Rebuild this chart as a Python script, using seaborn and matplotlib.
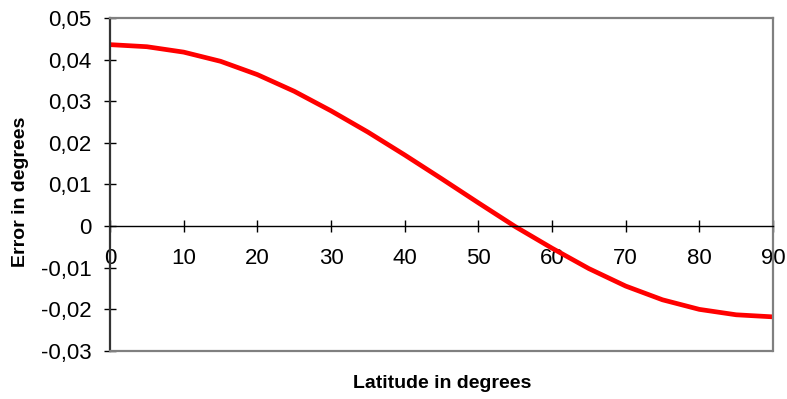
import matplotlib
matplotlib.use("Agg")
import matplotlib.pyplot as plt
import seaborn as sns
import pandas as pd
from matplotlib.ticker import FuncFormatter

# Values (every 5 degrees)
latitude = [0, 5, 10, 15, 20, 25, 30, 35, 40, 45, 50, 55, 60, 65, 70, 75, 80, 85, 90]
error = [0.0436, 0.0431, 0.0418, 0.0396, 0.0364, 0.0324, 0.0277, 0.0226, 0.0171,
         0.0114, 0.0056, -0.0001, -0.0053, -0.0102, -0.0144, -0.0177, -0.0200,
         -0.0213, -0.0218]
x_ticks = [0, 10, 20, 30, 40, 50, 60, 70, 80, 90]
y_ticks = [-0.03, -0.02, -0.01, 0, 0.01, 0.02, 0.03, 0.04, 0.05]

sns.set_style("white")
plt.rcParams["font.family"] = ["Liberation Sans", "DejaVu Sans"]

df = pd.DataFrame({"latitude": latitude, "error": error})

fig = plt.figure(figsize=(7.87, 3.99), dpi=100)
ax = fig.add_axes([0.1398, 0.1203, 0.8424, 0.8346])

sns.lineplot(data=df, x="latitude", y="error", color="#ff0000", linewidth=3.4,
             ax=ax)
ax.lines[0].set_solid_joinstyle("round")

ax.set_xlim(0, 90)
ax.set_ylim(-0.03, 0.05)
ax.set_xticks(x_ticks)
ax.set_yticks(y_ticks)


def comma_fmt(v, pos):
    if abs(v) < 1e-9:
        return "0"
    return f"{v:.2f}".replace(".", ",")


ax.yaxis.set_major_formatter(FuncFormatter(comma_fmt))

# x axis runs along zero, the frame stays gray
ax.spines["bottom"].set_position(("data", 0))
ax.spines["bottom"].set_color("black")
ax.spines["bottom"].set_linewidth(1.0)
ax.spines["left"].set_color("#333333")
ax.spines["left"].set_linewidth(1.6)
for side in ["top", "right"]:
    ax.spines[side].set_color("#808080")
    ax.spines[side].set_linewidth(1.6)
ax.axhline(-0.03, color="#808080", linewidth=1.6, clip_on=False, zorder=3)

ax.tick_params(axis="x", direction="inout", length=9, width=1, colors="black",
               labelsize=16, pad=11, bottom=True)
ax.tick_params(axis="y", direction="inout", length=9, width=1, colors="black",
               labelsize=16, pad=9, left=True)

ax.set_xlabel("")
ax.set_ylabel("")
fig.text(0.5616, 0.04, "Latitude in degrees", ha="center", va="center",
         fontsize=14, fontweight="bold", color="black")
fig.text(0.026, 0.52, "Error in degrees", ha="center", va="center",
         rotation=90, fontsize=14, fontweight="bold", color="black")

fig.savefig("out.png", dpi=100)
